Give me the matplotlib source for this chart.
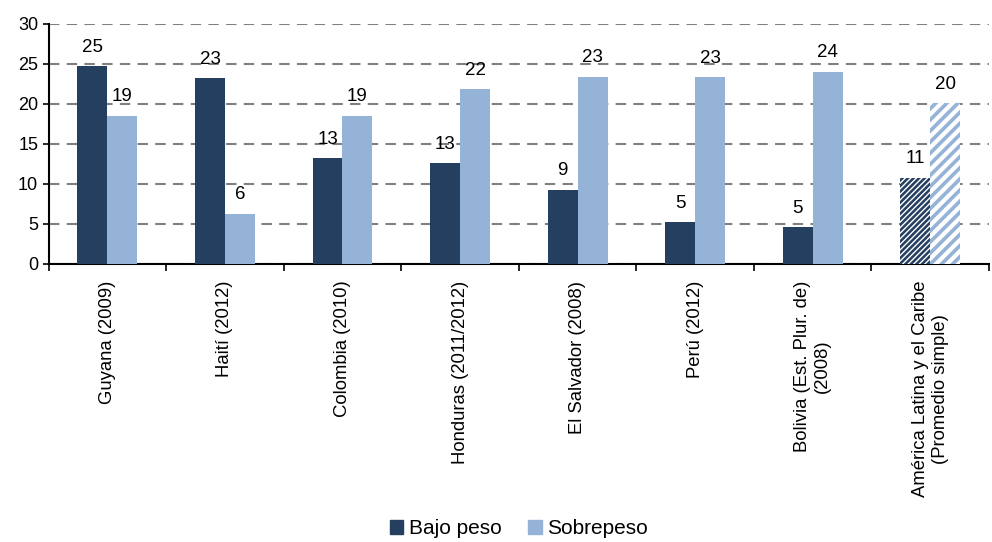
import numpy as np
import matplotlib
matplotlib.use('Agg')
import matplotlib.pyplot as plt
from matplotlib.patches import Patch

plt.rcParams['font.family'] = ['Liberation Sans', 'DejaVu Sans']

categories = ['Guyana (2009)', 'Haití (2012)', 'Colombia (2010)', 'Honduras (2011/2012)',
              'El Salvador (2008)', 'Perú (2012)', 'Bolivia (Est. Plur. de)\n(2008)',
              'América Latina y el Caribe\n(Promedio simple)']
bajo_peso = [24.7, 23.2, 13.2, 12.6, 9.3, 5.2, 4.6, 10.8]
sobrepeso = [18.5, 6.3, 18.5, 21.8, 23.4, 23.3, 24.0, 20.1]
bajo_lbl = [25, 23, 13, 13, 9, 5, 5, 11]
sobre_lbl = [19, 6, 19, 22, 23, 23, 24, 20]

dark = '#243F60'
light = '#95B3D7'

fig = plt.figure(figsize=(9.92, 5.42), dpi=100)
ax = fig.add_axes([0.049, 0.513, 0.948, 0.443])

x = np.arange(len(categories))
w = 0.255
b1 = ax.bar(x - w/2, bajo_peso, w, color=dark, label='Bajo peso', zorder=3)
b2 = ax.bar(x + w/2, sobrepeso, w, color=light, label='Sobrepeso', zorder=3)

# last category (regional average) is hatched
b1[-1].set_facecolor(dark)
b1[-1].set_edgecolor('white')
b1[-1].set_hatch('//////')
b1[-1].set_linewidth(0)
b2[-1].set_facecolor(light)
b2[-1].set_edgecolor('white')
b2[-1].set_hatch('///')
b2[-1].set_linewidth(0)
try:
    b1[-1].set_hatch_linewidth(1.0)
    b2[-1].set_hatch_linewidth(3.0)
except AttributeError:
    pass

for i in range(len(categories)):
    ax.text(x[i] - w/2, bajo_peso[i] + 1.3, str(bajo_lbl[i]), ha='center', va='bottom', fontsize=13.5)
    ax.text(x[i] + w/2, sobrepeso[i] + 1.3, str(sobre_lbl[i]), ha='center', va='bottom', fontsize=13.5)

ax.set_ylim(0, 30)
ax.set_xlim(-0.5, len(categories) - 0.5)
ax.set_yticks(range(0, 31, 5))
ax.yaxis.grid(True, linestyle=(0, (5, 3.5)), color='#808080', linewidth=1.5, zorder=0)
ax.set_axisbelow(True)

ax.set_xticks(np.arange(len(categories) + 1) - 0.5, minor=False)
ax.set_xticklabels([])
ax.set_xticks(x, minor=True)
ax.set_xticklabels(categories, minor=True, rotation=90, fontsize=13.3, ha='center', va='top',
                   multialignment='center')
ax.tick_params(axis='x', which='minor', length=0, pad=12)
ax.tick_params(axis='x', which='major', length=5, direction='out', width=1.2)
ax.tick_params(axis='y', length=4, width=1.2, labelsize=13)

for s in ['top', 'right']:
    ax.spines[s].set_visible(False)
ax.spines['left'].set_linewidth(1.5)
ax.spines['bottom'].set_linewidth(1.5)

handles = [Patch(color=dark, label='Bajo peso'), Patch(color=light, label='Sobrepeso')]
fig.legend(handles=handles, loc='center', bbox_to_anchor=(0.523, 0.024), ncol=2,
           frameon=False, fontsize=15, handlelength=0.65, handleheight=0.65,
           handletextpad=0.25, columnspacing=1.3, borderpad=0)

fig.savefig('out.png', dpi=100)
